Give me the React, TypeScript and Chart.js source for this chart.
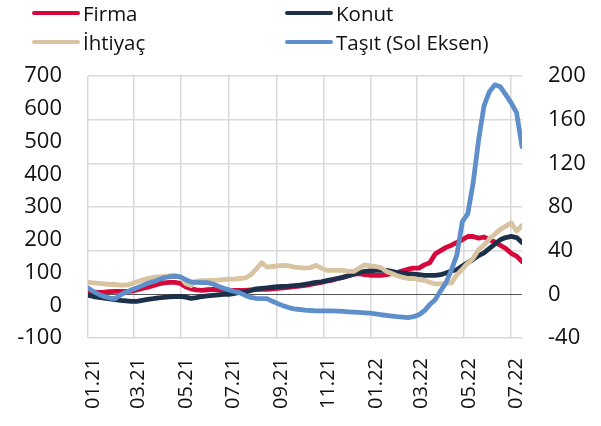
import React, { useEffect, useRef } from 'react';
import { Chart, registerables } from 'chart.js';

Chart.register(...registerables);

// ---- data ----
const START = Date.UTC(2021, 0, 1);
const DAY = 86400000;
const WEEK_COUNT = 81;
// weekly observation dates (every Friday from 01.01.2021)
const WEEKS: number[] = Array.from({ length: WEEK_COUNT }, (_, i) => START + i * 7 * DAY);

const X_TICK_LABELS = ['01.21', '03.21', '05.21', '07.21', '09.21', '11.21', '01.22', '03.22', '05.22', '07.22'];
const LEFT_TICKS = [-100, 0, 100, 200, 300, 400, 500, 600, 700];
const RIGHT_TICKS = [-40, 0, 40, 80, 120, 160, 200];

const FIRMA = [
  2, 2, 1.8, 2, 2.5, 2.7, 2.7, 2.7, 3, 4,
  5.5, 6.5, 8, 9.5, 10.5, 11, 11, 10, 7, 5,
  4, 3.7, 4.2, 4.6, 4.2, 3.7, 3.7, 3.7, 3.7, 3.7,
  4, 4.3, 4.6, 4.6, 5, 5.5, 6, 6.5, 7, 7.5,
  8.2, 9, 10, 11, 12, 13, 14.5, 15.5, 17, 18.5,
  19, 18, 17.5, 17.4, 17.4, 18, 19, 20, 21.5, 23,
  24, 24, 27, 29, 37, 40, 43, 45, 47.5, 50,
  53, 53, 51.5, 52.5, 50, 48, 45, 42, 37.6, 35,
  30,
];

const KONUT = [
  -1, -2, -2.7, -3.5, -4.2, -4.8, -5.5, -6, -6.4, -6.4,
  -5.5, -4.6, -4, -3.2, -2.7, -2.3, -2, -1.8, -2.5, -3.7,
  -3, -2, -1.5, -1, -0.5, 0, 0, 0.9, 1.8, 2,
  3.5, 5, 5.5, 6, 6.5, 7, 7.3, 7.5, 8, 8.5,
  9.2, 10, 11, 11.5, 12.5, 13.5, 14.5, 15.6, 17, 18.5,
  20, 21, 21.5, 22, 22, 22, 21, 20, 19.5, 19,
  18.5, 18, 17.4, 17.4, 17.4, 18, 19.5, 21.5, 22.5, 26,
  29, 32, 35.5, 38, 42, 46, 50, 52, 53, 52,
  47.6,
];

const IHTIYAC = [
  11, 10.5, 10, 9.5, 9, 9, 8.5, 8.5, 9.5, 11.5,
  13, 14.5, 15.5, 16, 16.5, 17, 17.5, 16, 10, 8,
  12, 12.5, 12.5, 13, 13, 13.5, 14, 14, 14.5, 15,
  18, 23, 29, 25, 25.5, 26, 26.5, 26, 25, 24.5,
  24, 24.5, 26.5, 24, 22, 22, 22, 22, 21, 21,
  24, 27, 26, 25.5, 24.5, 21, 19, 17, 15.5, 14.5,
  14.5, 13.5, 12.8, 11, 9.5, 9.5, 10, 10.5, 18, 23,
  28.5, 33, 41, 45, 51, 55, 59.5, 62.5, 65.5, 58,
  63,
];

const TASIT = [
  53, 42, 33, 27, 22, 20, 32, 40, 47, 53,
  60, 67, 72, 78, 84, 87, 88, 87, 78, 71,
  70, 69, 69, 65, 58, 52, 47, 42, 38, 30,
  24, 21, 20, 20, 12, 5, -2, -7, -11, -13,
  -15, -16, -17, -17, -17, -17, -18, -19, -20, -21,
  -22, -23, -24, -26, -29, -31, -33, -35, -36, -38,
  -35, -29, -17, 2, 17, 44, 69, 108, 154, 255,
  279, 374, 505, 609, 652, 673, 667, 643, 618, 588,
  484,
];

const SERIES = [
  { label: 'Firma', values: FIRMA, color: '#D6083B', axis: 'yR', order: 3 },
  { label: 'Konut', values: KONUT, color: '#1C3049', axis: 'yR', order: 2 },
  { label: 'İhtiyaç', values: IHTIYAC, color: '#D9C4A1', axis: 'yR', order: 1 },
  { label: 'Taşıt (Sol Eksen)', values: TASIT, color: '#5F8FCB', axis: 'yL', order: 0 },
];

const FONT = '"Open Sans", "Noto Sans", sans-serif';

const labelToDay = (lab: string) => {
  const [mm, yy] = lab.split('.').map(Number);
  return (Date.UTC(2000 + yy, mm - 1, 1) - START) / DAY;
};
const X_TICK_DAYS = X_TICK_LABELS.map(labelToDay);

function Legend() {
  const items = [
    { s: SERIES[0], left: 32, top: 13 },
    { s: SERIES[1], left: 285, top: 13 },
    { s: SERIES[2], left: 32, top: 42 },
    { s: SERIES[3], left: 285, top: 42 },
  ];
  return (
    <>
      {items.map(({ s, left, top }) => (
        <div key={s.label} style={{ position: 'absolute', left, top: top - 15, height: 30, display: 'flex', alignItems: 'center' }}>
          <div style={{ width: 48, height: 4.5, borderRadius: 3, background: s.color }} />
          <span style={{ marginLeft: 3, font: `20.5px ${FONT}`, color: '#111', whiteSpace: 'nowrap' }}>{s.label}</span>
        </div>
      ))}
    </>
  );
}

export default function App() {
  const ref = useRef<HTMLCanvasElement | null>(null);

  useEffect(() => {
    if (!ref.current) return;
    const chart = new Chart(ref.current, {
      type: 'line',
      data: {
        datasets: SERIES.map((s) => ({
          label: s.label,
          data: s.values.map((v, i) => ({ x: (WEEKS[i] - START) / DAY, y: v })),
          borderColor: s.color,
          backgroundColor: s.color,
          borderWidth: 4.8,
          pointRadius: 0,
          tension: 0,
          borderJoinStyle: 'round',
          borderCapStyle: 'round',
          yAxisID: s.axis,
          order: s.order,
        })),
      },
      options: {
        animation: false,
        responsive: false,
        devicePixelRatio: 1,
        layout: { padding: { top: 76, left: 0, right: 0, bottom: 0 } },
        plugins: { legend: { display: false }, tooltip: { enabled: false } },
        scales: {
          x: {
            type: 'linear',
            min: 0,
            max: (WEEKS[WEEK_COUNT - 1] - START) / DAY,
            afterBuildTicks: (scale: any) => {
              scale.ticks = X_TICK_DAYS.map((v) => ({ value: v }));
            },
            afterFit: (scale: any) => { scale.height = 88; },
            border: { display: false },
            grid: { color: '#D9D9D9', lineWidth: 1.5, drawTicks: false },
            ticks: {
              autoSkip: false,
              minRotation: 90,
              maxRotation: 90,
              padding: 20,
              labelOffset: 5,
              color: '#111',
              font: { family: FONT, size: 20 },
              callback: (v: any) => {
                const idx = X_TICK_DAYS.indexOf(Number(v));
                return idx >= 0 ? X_TICK_LABELS[idx] : '';
              },
            },
          },
          yL: {
            type: 'linear',
            position: 'left',
            min: LEFT_TICKS[0],
            max: LEFT_TICKS[LEFT_TICKS.length - 1],
            afterBuildTicks: (scale: any) => {
              scale.ticks = LEFT_TICKS.map((v) => ({ value: v }));
            },
            afterFit: (scale: any) => { scale.width = 88; },
            border: { display: false },
            grid: { display: false, drawTicks: false },
            ticks: { padding: 26, color: '#111', font: { family: FONT, size: 22 } },
          },
          yR: {
            type: 'linear',
            position: 'right',
            min: RIGHT_TICKS[0],
            max: RIGHT_TICKS[RIGHT_TICKS.length - 1],
            afterBuildTicks: (scale: any) => {
              scale.ticks = RIGHT_TICKS.map((v) => ({ value: v }));
            },
            afterFit: (scale: any) => { scale.width = 79; },
            border: { display: false },
            grid: {
              drawTicks: false,
              color: (ctx: any) => (ctx.tick && ctx.tick.value === 0 ? '#555555' : '#D9D9D9'),
              lineWidth: (ctx: any) => (ctx.tick && ctx.tick.value === 0 ? 1 : 1.5),
            },
            ticks: { padding: 26, color: '#111', font: { family: FONT, size: 22 } },
          },
        },
      },
    } as any);
    return () => chart.destroy();
  }, []);

  return (
    <div style={{ position: 'fixed', left: 0, top: 0, width: 601, height: 426, background: '#fff' }}>
      <canvas ref={ref} width={601} height={426} style={{ position: 'absolute', left: 0, top: 0, width: 601, height: 426 }} />
      <Legend />
    </div>
  );
}
